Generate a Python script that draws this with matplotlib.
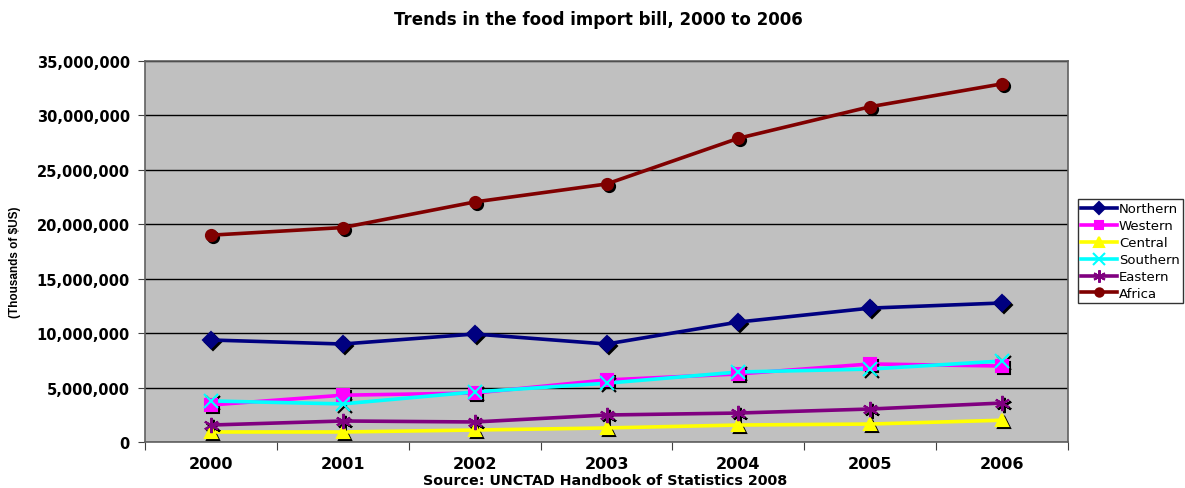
import matplotlib
matplotlib.use('Agg')
import matplotlib.pyplot as plt
from matplotlib.ticker import FuncFormatter, FixedLocator
from matplotlib.transforms import offset_copy

plt.rcParams['font.family'] = ['DejaVu Sans']

# Food import bill by region (thousands of $US)
years = ['2000', '2001', '2002', '2003', '2004', '2005', '2006']
northern = [9370000, 9000000, 9920000, 9000000, 11020000, 12300000, 12770000]
western = [3400000, 4300000, 4500000, 5700000, 6250000, 7170000, 6980000]
central = [920000, 920000, 1100000, 1290000, 1560000, 1650000, 2000000]
southern = [3770000, 3500000, 4600000, 5400000, 6430000, 6700000, 7440000]
eastern = [1560000, 1930000, 1840000, 2480000, 2660000, 3030000, 3580000]
africa = [19000000, 19700000, 22050000, 23700000, 27900000, 30800000, 32900000]

series = [
    ('Northern', northern, '#000080', 'D', 8),
    ('Western', western, '#FF00FF', 's', 8),
    ('Central', central, '#FFFF00', '^', 9),
    ('Southern', southern, '#00FFFF', 'x', 10),
    ('Eastern', eastern, '#800080', (6, 2, 0), 11),
    ('Africa', africa, '#800000', 'o', 8),
]

fig = plt.figure(figsize=(11.85, 4.89), dpi=100)
ax = fig.add_axes([145 / 1185, 1 - 443 / 489, 923 / 1185, 381 / 489])
ax.set_facecolor('#C0C0C0')

x = list(range(len(years)))
shadow = offset_copy(ax.transData, fig=fig, x=2, y=-2, units='dots')

handles = []
for name, vals, color, marker, ms in series:
    # drop shadow under the markers
    mk_kw = dict(marker=marker, markersize=ms, linestyle='none')
    ax.plot(x, vals, color='black', mec='black', mew=1.5, transform=shadow, zorder=3, **mk_kw)
    ax.plot(x, vals, color=color, lw=2.6, zorder=3)
    ax.plot(x, vals, color=color, mec=color, mew=1.5, zorder=4, **mk_kw)
    h, = ax.plot([], [], color=color, lw=2.6, marker=marker, markersize=ms - 2,
                 mec=color, mew=1.5, label=name)
    handles.append(h)

ax.set_xlim(-0.5, 6.5)
ax.set_ylim(0, 35000000)
ax.xaxis.set_major_locator(FixedLocator([i - 0.5 for i in range(8)]))
ax.xaxis.set_minor_locator(FixedLocator(x))
ax.xaxis.set_major_formatter(FuncFormatter(lambda v, p: ''))
ax.set_xticklabels(years, minor=True, fontsize=11.5, fontweight='bold')
ax.tick_params(axis='x', which='major', direction='out', length=6, color='#404040')
ax.tick_params(axis='x', which='minor', length=0, pad=10)
ax.set_yticks(range(0, 35000001, 5000000))
ax.yaxis.set_major_formatter(FuncFormatter(lambda v, p: f'{int(v):,}'))
ax.tick_params(axis='y', direction='out', length=5, color='#404040', labelsize=10.5, pad=6)
for lbl in ax.get_yticklabels():
    lbl.set_fontweight('bold')

ax.grid(axis='y', color='black', lw=1)
ax.set_axisbelow(True)
for s in ax.spines.values():
    s.set_color('#606060')
    s.set_linewidth(1.2)

fig.text(598 / 1185, 1 - 20 / 489, 'Trends in the food import bill, 2000 to 2006',
         ha='center', va='center', fontsize=12, fontweight='bold')
fig.text(605 / 1185, 1 - 481 / 489, 'Source: UNCTAD Handbook of Statistics 2008',
         ha='center', va='center', fontsize=10.3, fontweight='bold')
fig.text(15 / 1185, 1 - 262 / 489, '(Thousands of $US)', rotation=90,
         ha='center', va='center', fontsize=8.5, fontweight='bold',
         family=['Liberation Sans Narrow', 'Liberation Sans'])

leg = fig.legend(handles=handles, loc='upper left',
                 bbox_to_anchor=(1078 / 1185, 1 - 200 / 489),
                 fontsize=9.5, frameon=True, fancybox=False, borderpad=0.25,
                 labelspacing=0.3, handlelength=2.7, handletextpad=0.15,
                 borderaxespad=0)
leg.get_frame().set_edgecolor('black')
leg.get_frame().set_linewidth(1)

fig.savefig('out.png', dpi=100)
